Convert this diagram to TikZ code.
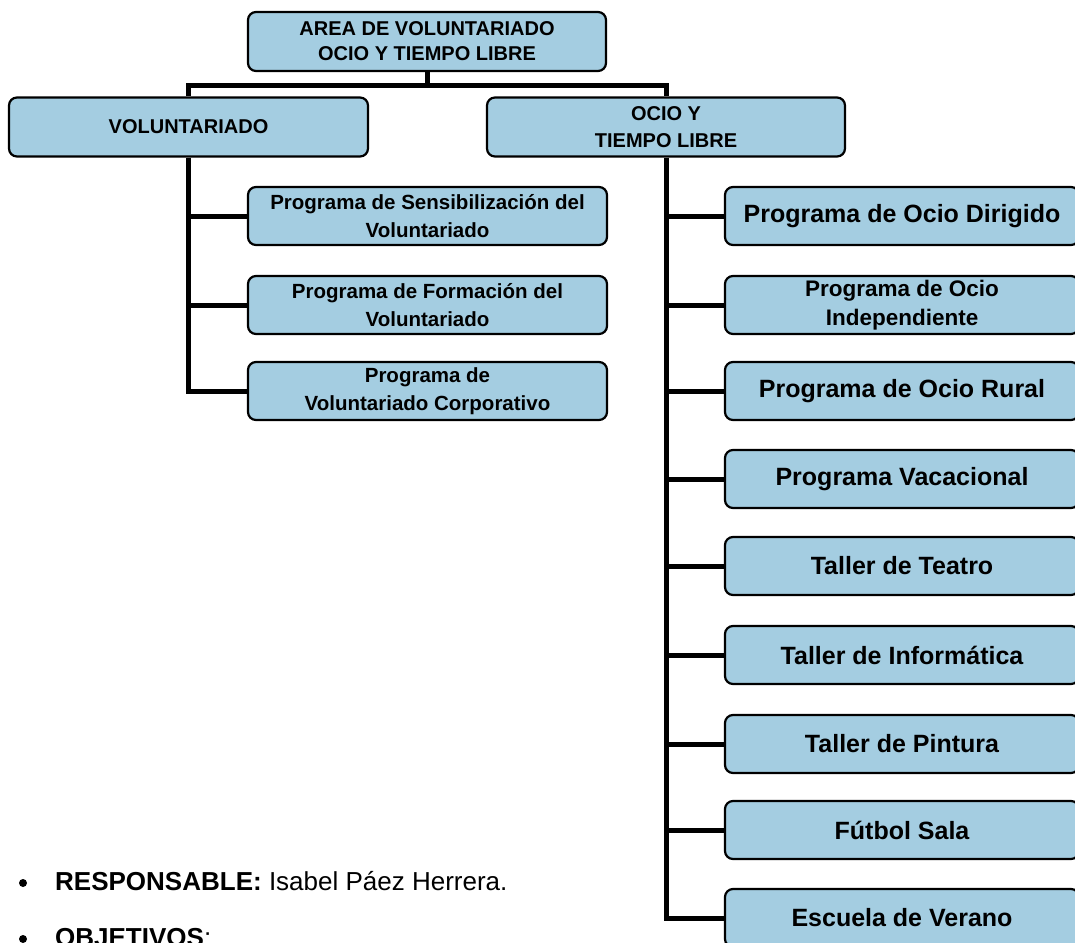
\documentclass[tikz,border=0pt]{standalone}
\usepackage{fontspec}
\setmainfont{Liberation Sans}
\definecolor{boxblue}{RGB}{164,205,225}
\tikzset{
  orgbox/.style={draw=black, fill=boxblue, line width=2.2pt, rounded corners=8pt,
    rectangle, align=center, inner sep=0pt},
  big/.style={orgbox, minimum width=358pt, minimum height=59pt, font=\bfseries\fontsize{20}{25}\selectfont},
  lchild/.style={orgbox, minimum width=359pt, minimum height=58pt, font=\bfseries\fontsize{20.5}{28}\selectfont},
  rchild/.style={orgbox, minimum width=354pt, minimum height=58pt, font=\bfseries\fontsize{25}{30}\selectfont},
  rchildsmall/.style={rchild, font=\bfseries\fontsize{22.5}{29}\selectfont},
  conn/.style={draw=black, line width=5pt},
}
\begin{document}
\begin{tikzpicture}[x=1pt,y=-1pt]
\useasboundingbox (0,0) rectangle (1075,942);
\clip (0,0) rectangle (1075,942);
% top level
\node[big] (top) at (427,41.5) {AREA DE VOLUNTARIADO\\OCIO Y TIEMPO LIBRE};
\node[big, minimum width=359pt] (vol) at (188.5,127) {VOLUNTARIADO};
\node[big, font=\bfseries\fontsize{20}{27}\selectfont] (ocio) at (666,127) {OCIO Y\\TIEMPO LIBRE};
% left children
\node[lchild] (l1) at (427.5,216) {Programa de Sensibilización del\\Voluntariado};
\node[lchild] (l2) at (427.5,305) {Programa de Formación del\\Voluntariado};
\node[lchild] (l3) at (427.5,391) {Programa de\\Voluntariado Corporativo};
% right children
\node[rchild] (r1) at (902,216) {Programa de Ocio Dirigido};
\node[rchildsmall] (r2) at (902,305) {Programa de Ocio\\Independiente};
\node[rchild] (r3) at (902,391) {Programa de Ocio Rural};
\node[rchild] (r4) at (902,479) {Programa Vacacional};
\node[rchild] (r5) at (902,566) {Taller de Teatro};
\node[rchild] (r6) at (902,655) {Taller de Informática};
\node[rchild] (r7) at (902,744) {Taller de Pintura};
\node[rchild] (r8) at (902,830) {Fútbol Sala};
\node[rchild] (r9) at (902,918) {Escuela de Verano};
% connectors top
\coordinate (bar) at (427,85);
\draw[conn] (top.south) -- (top.south |- bar);
\draw[conn] (vol.north) -- (vol.north |- bar) -| (ocio.north);
% left tree
\draw[conn] (vol.south) |- (l3.west);
\foreach \n in {l1,l2} \draw[conn] (vol.south |- \n.west) -- (\n.west);
% right tree
\draw[conn] (ocio.south) |- (r9.west);
\foreach \n in {r1,r2,r3,r4,r5,r6,r7,r8} \draw[conn] (ocio.south |- \n.west) -- (\n.west);
% bullets
\node[circle, fill=black, inner sep=0pt, minimum size=8pt] (b1) at (23,883) {};
\node[anchor=base west, inner sep=0pt, font=\fontsize{26}{30}\selectfont] (resp) at (55,890) {\textbf{RESPONSABLE:} Isabel Páez Herrera.};
\node[circle, fill=black, inner sep=0pt, minimum size=8pt] (b2) at (23,939) {};
\node[anchor=base west, inner sep=0pt, font=\fontsize{26}{30}\selectfont] (obj) at (55,946) {\textbf{OBJETIVOS}:};
\end{tikzpicture}
\end{document}
